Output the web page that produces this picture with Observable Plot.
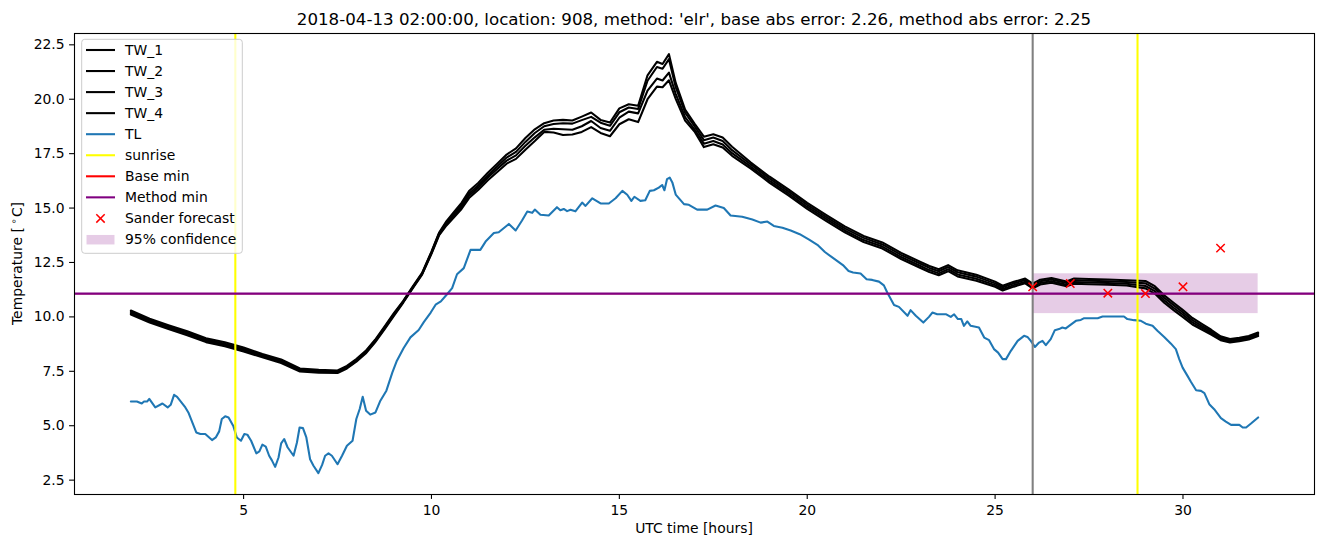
<!DOCTYPE html>
<html>
<head>
<meta charset="utf-8">
<script src="https://cdn.jsdelivr.net/npm/d3@7"></script>
<script src="https://cdn.jsdelivr.net/npm/@observablehq/plot@0.6"></script>
<style>
  html, body { margin: 0; padding: 0; background: #fff; }
  #wrap { position: relative; width: 1324px; height: 547px; font-family: "DejaVu Sans", sans-serif; }
  #chart svg { display: block; }
  #overlay { position: absolute; left: 0; top: 0; pointer-events: none; }
</style>
</head>
<body>
<div id="wrap">
  <div id="chart"></div>
  <svg id="overlay" width="1324" height="547"></svg>
</div>
<script>
// ---------------- data ----------------
const titleText = "2018-04-13 02:00:00, location: 908, method: 'elr', base abs error: 2.26, method abs error: 2.25";

const hoursTW = [2, 2.5, 3, 3.5, 4, 4.5, 5, 5.5, 6, 6.5, 7, 7.5, 7.75, 8, 8.25, 8.5, 8.75, 9, 9.25, 9.5,
  9.75, 10, 10.2, 10.4, 10.6, 10.8, 11, 11.25, 11.5, 11.75, 12, 12.25, 12.5, 12.75, 13, 13.25, 13.5, 13.75, 14, 14.25,
  14.5, 14.75, 15, 15.25, 15.5, 15.75, 16, 16.15, 16.32, 16.5, 16.75, 17, 17.25, 17.5, 17.75, 18, 18.5, 19, 19.5, 20,
  20.5, 21, 21.5, 22, 22.5, 23, 23.25, 23.5, 23.75, 24, 24.5, 25, 25.2, 25.5, 25.8, 26, 26.2, 26.5, 26.9, 27.1,
  27.5, 28, 28.5, 29, 29.25, 29.5, 29.75, 30, 30.25, 30.5, 30.75, 31, 31.25, 31.5, 31.75, 32];

const TW_1 = [10.29, 9.92, 9.62, 9.34, 9.02, 8.83, 8.59, 8.30, 8.04, 7.63, 7.57, 7.54, 7.75, 8.06, 8.44, 8.95, 9.55, 10.17,
  10.74, 11.39, 12.02, 13.00, 13.86, 14.40, 14.82, 15.24, 15.78, 16.16, 16.62, 17.04, 17.46, 17.74, 18.22, 18.62, 18.90, 19.02, 19.05, 19.02, 19.20, 19.39,
  19.05, 18.93, 19.58, 19.77, 19.70, 21.10, 21.72, 21.62, 22.07, 20.75, 19.52, 18.88, 18.28, 18.39, 18.24, 17.82,
  17.09, 16.44, 15.86, 15.24, 14.69, 14.16, 13.72, 13.42, 12.94, 12.54, 12.34, 12.19, 12.38, 12.14, 11.94, 11.62, 11.43, 11.61, 11.76, 11.53,
  11.71, 11.79, 11.63, 11.76, 11.74, 11.72, 11.68, 11.65, 11.41, 10.99, 10.65, 10.31, 9.95, 9.68, 9.41, 9.11, 8.98, 9.04, 9.12, 9.28];

const TW_2 = [10.23, 9.86, 9.56, 9.28, 8.96, 8.77, 8.53, 8.25, 7.99, 7.58, 7.52, 7.50, 7.71, 8.02, 8.40, 8.91, 9.51, 10.13,
  10.71, 11.36, 11.99, 12.97, 13.82, 14.33, 14.74, 15.14, 15.67, 16.05, 16.50, 16.91, 17.32, 17.58, 18.04, 18.45, 18.76, 18.86, 18.90, 18.88, 19.04, 19.19,
  18.92, 18.78, 19.40, 19.62, 19.55, 20.85, 21.48, 21.40, 21.84, 20.55, 19.38, 18.76, 18.12, 18.24, 18.08, 17.66,
  17.00, 16.35, 15.77, 15.15, 14.60, 14.07, 13.63, 13.33, 12.85, 12.45, 12.25, 12.10, 12.29, 12.05, 11.85, 11.54, 11.36, 11.54, 11.69, 11.46,
  11.64, 11.72, 11.56, 11.68, 11.66, 11.64, 11.60, 11.54, 11.30, 10.88, 10.54, 10.20, 9.85, 9.59, 9.34, 9.05, 8.93, 8.99, 9.07, 9.23];

const TW_3 = [10.17, 9.80, 9.50, 9.22, 8.90, 8.71, 8.47, 8.19, 7.93, 7.54, 7.48, 7.46, 7.67, 7.98, 8.36, 8.87, 9.47, 10.09,
  10.69, 11.34, 11.97, 12.93, 13.78, 14.27, 14.66, 15.06, 15.57, 15.95, 16.40, 16.79, 17.18, 17.42, 17.86, 18.25, 18.60, 18.64, 18.62, 18.60, 18.76, 19.00,
  18.68, 18.55, 19.15, 19.43, 19.35, 20.40, 20.95, 20.86, 21.22, 20.25, 19.18, 18.62, 17.96, 18.08, 17.92, 17.52,
  16.90, 16.25, 15.67, 15.05, 14.50, 13.97, 13.53, 13.23, 12.75, 12.35, 12.15, 12.00, 12.19, 11.95, 11.75, 11.46, 11.28, 11.46, 11.61, 11.38,
  11.56, 11.64, 11.48, 11.60, 11.58, 11.56, 11.52, 11.42, 11.18, 10.76, 10.42, 10.10, 9.75, 9.51, 9.26, 8.99, 8.87, 8.93, 9.01, 9.17];

const TW_4 = [10.11, 9.74, 9.44, 9.16, 8.84, 8.65, 8.41, 8.14, 7.88, 7.49, 7.43, 7.42, 7.63, 7.94, 8.32, 8.83, 9.43, 10.05,
  10.66, 11.31, 11.94, 12.90, 13.74, 14.20, 14.58, 14.96, 15.46, 15.84, 16.28, 16.66, 17.04, 17.26, 17.68, 18.08, 18.50, 18.47, 18.36, 18.38, 18.50, 18.72,
  18.45, 18.30, 18.85, 19.08, 18.95, 20.00, 20.58, 20.55, 20.87, 20.02, 19.02, 18.52, 17.80, 17.93, 17.78, 17.40,
  16.81, 16.16, 15.58, 14.96, 14.41, 13.88, 13.44, 13.14, 12.66, 12.26, 12.06, 11.91, 12.10, 11.86, 11.66, 11.38, 11.21, 11.39, 11.54, 11.31,
  11.49, 11.57, 11.41, 11.52, 11.50, 11.48, 11.44, 11.31, 11.07, 10.65, 10.31, 9.99, 9.65, 9.42, 9.19, 8.93, 8.82, 8.88, 8.96, 9.12];

const hoursTL = [2.00, 2.16, 2.29, 2.35, 2.43, 2.49, 2.65, 2.84, 2.98, 3.06, 3.15, 3.23, 3.45, 3.53, 3.74, 3.85, 3.98, 4.16, 4.26, 4.35,
  4.42, 4.51, 4.60, 4.73, 4.82, 4.93, 5.02, 5.10, 5.20, 5.34, 5.42, 5.50, 5.59, 5.68, 5.75, 5.84, 5.93, 6.00, 6.08, 6.17,
  6.33, 6.42, 6.49, 6.58, 6.67, 6.77, 6.86, 6.99, 7.09, 7.17, 7.26, 7.35, 7.50, 7.62, 7.75, 7.90, 8.00, 8.09, 8.17, 8.26,
  8.37, 8.51, 8.64, 8.80, 8.96, 9.08, 9.26, 9.44, 9.66, 9.80, 9.98, 10.11, 10.25, 10.42, 10.55, 10.68, 10.86, 11.04, 11.30, 11.44,
  11.66, 11.79, 12.06, 12.24, 12.41, 12.55, 12.68, 12.75, 12.90, 13.12, 13.34, 13.43, 13.52, 13.61, 13.70, 13.83, 14.01, 14.10, 14.28, 14.50,
  14.72, 14.90, 15.08, 15.21, 15.32, 15.40, 15.56, 15.69, 15.81, 15.92, 16.05, 16.14, 16.20, 16.27, 16.34, 16.41, 16.50, 16.72, 16.85, 17.07,
  17.34, 17.56, 17.78, 17.96, 18.27, 18.54, 18.76, 18.94, 19.11, 19.34, 19.56, 19.80, 20.05, 20.27, 20.47, 20.73, 20.95, 21.10, 21.22, 21.42,
  21.58, 21.73, 21.91, 22.04, 22.13, 22.31, 22.44, 22.67, 22.75, 22.89, 23.09, 23.24, 23.33, 23.46, 23.70, 23.82, 23.91, 24.01, 24.10, 24.17,
  24.26, 24.35, 24.57, 24.71, 24.84, 24.97, 25.08, 25.20, 25.29, 25.42, 25.60, 25.77, 25.86, 25.95, 26.06, 26.17, 26.26, 26.35, 26.48, 26.59,
  26.70, 26.79, 26.88, 27.15, 27.28, 27.37, 27.73, 27.86, 28.43, 28.52, 28.70, 28.88, 29.01, 29.19, 29.32, 29.50, 29.68, 29.81, 29.90, 29.99,
  30.12, 30.21, 30.35, 30.48, 30.57, 30.70, 30.83, 31.01, 31.14, 31.28, 31.50, 31.59, 31.68, 31.81, 32.00];

const TL = [6.11, 6.11, 6.02, 6.11, 6.11, 6.23, 5.84, 6.02, 5.84, 5.96, 6.42, 6.33, 5.84, 5.61, 4.69, 4.62, 4.62, 4.34, 4.46, 4.74,
  5.31, 5.43, 5.38, 4.97, 4.46, 4.31, 4.62, 4.59, 4.31, 3.73, 3.82, 4.13, 4.04, 3.62, 3.42, 3.11, 3.54, 4.19, 4.39, 4.01,
  3.62, 4.23, 4.92, 4.89, 4.46, 3.46, 3.16, 2.82, 3.20, 3.62, 3.73, 3.62, 3.23, 3.62, 4.08, 4.31, 5.31, 5.77, 6.33, 5.69,
  5.51, 5.61, 6.15, 6.61, 7.45, 7.99, 8.57, 9.06, 9.40, 9.77, 10.20, 10.56, 10.71, 11.05, 11.32, 11.96, 12.24, 13.08, 13.08, 13.46,
  13.85, 13.89, 14.27, 13.97, 14.43, 14.84, 14.78, 14.93, 14.69, 14.66, 15.04, 14.90, 14.96, 14.86, 14.92, 14.85, 15.25, 15.10, 15.45, 15.21,
  15.21, 15.45, 15.79, 15.61, 15.33, 15.52, 15.33, 15.36, 15.79, 15.82, 15.94, 16.06, 15.82, 16.33, 16.40, 16.18, 15.62, 15.18, 15.15, 14.93,
  14.93, 15.12, 15.00, 14.66, 14.60, 14.47, 14.33, 14.38, 14.18, 14.10, 13.97, 13.80, 13.55, 13.31, 12.98, 12.65, 12.38, 12.11, 12.04, 11.99,
  11.73, 11.70, 11.62, 11.45, 11.12, 10.55, 10.46, 10.05, 10.31, 10.05, 9.74, 10.00, 10.20, 10.12, 10.12, 10.00, 10.12, 9.90, 9.90, 9.59,
  9.79, 9.59, 9.51, 9.05, 8.93, 8.52, 8.36, 8.06, 8.06, 8.44, 8.90, 9.13, 9.08, 8.90, 8.62, 8.82, 8.90, 8.70, 8.98, 9.39,
  9.44, 9.51, 9.47, 9.82, 9.86, 9.94, 9.94, 10.02, 10.02, 9.90, 9.85, 9.82, 9.69, 9.59, 9.36, 9.08, 8.77, 8.52, 8.06, 7.67,
  7.29, 7.02, 6.63, 6.60, 6.50, 5.99, 5.76, 5.35, 5.19, 5.04, 5.04, 4.92, 4.92, 5.10, 5.38];

const sunriseHours = [4.78, 28.79];
const forecastStartHour = [26.0];
const baseMin = [11.07];
const methodMin = [11.07];
const sanderHours = [26, 27, 28, 29, 30, 31];
const sanderTemps = [11.38, 11.53, 11.09, 11.07, 11.38, 13.16];
const confStart = 26, confEnd = 32, confLow = 10.15, confHigh = 11.98;

const xTicks = [5, 10, 15, 20, 25, 30];
const yTicks = [2.5, 5.0, 7.5, 10.0, 12.5, 15.0, 17.5, 20.0, 22.5];

// ---------------- build ----------------
const twSeries = [TW_1, TW_2, TW_3, TW_4].map(vals => hoursTW.map((h, i) => ({h, t: vals[i]})));
const tlData = hoursTL.map((h, i) => ({h, t: TL[i]}));
const sander = sanderHours.map((h, i) => ({h, t: sanderTemps[i]}));
const conf = [{x1: confStart, x2: confEnd, y1: confLow, y2: confHigh}];

const LW = 2.08;
const chart = Plot.plot({
  width: 1324,
  height: 547,
  marginLeft: 74,
  marginRight: 10,
  marginTop: 33,
  marginBottom: 53,
  style: {fontFamily: "DejaVu Sans", fontSize: "13.9px", background: "white", color: "black"},
  x: {domain: [0.5, 33.5]},
  y: {domain: [1.84, 23.02]},
  marks: [
    Plot.rect(conf, {x1: "x1", x2: "x2", y1: "y1", y2: "y2", fill: "purple", fillOpacity: 0.2}),
    ...twSeries.map(d => Plot.line(d, {x: "h", y: "t", stroke: "black", strokeWidth: LW})),
    Plot.line(tlData, {x: "h", y: "t", stroke: "#1f77b4", strokeWidth: LW}),
    Plot.ruleX(sunriseHours, {stroke: "yellow", strokeWidth: LW}),
    Plot.ruleX(forecastStartHour, {stroke: "gray", strokeWidth: LW}),
    Plot.ruleY(baseMin, {stroke: "red", strokeWidth: 1.4}),
    Plot.ruleY(methodMin, {stroke: "purple", strokeWidth: 2.3}),
    Plot.dot(sander, {x: "h", y: "t", symbol: "times", r: 3.9, stroke: "red", strokeWidth: 1.5}),
    Plot.frame({stroke: "black", strokeWidth: 1.1}),
    Plot.axisX({ticks: xTicks, tickSize: 4.9, tickPadding: 5.5, tickFormat: d => String(d), label: null, strokeWidth: 1.1}),
    Plot.axisY({ticks: yTicks, tickSize: 4.9, tickPadding: 5, tickFormat: d3.format(".1f"), label: null, strokeWidth: 1.1})
  ]
});
document.getElementById("chart").appendChild(chart);

// ---------------- title, axis labels, legend ----------------
const ov = d3.select("#overlay");
const font = "DejaVu Sans";
ov.append("text").attr("x", 694).attr("y", 24.5).attr("text-anchor", "middle")
  .attr("font-family", font).attr("font-size", 16.67).text(titleText);
ov.append("text").attr("x", 694).attr("y", 533).attr("text-anchor", "middle")
  .attr("font-family", font).attr("font-size", 13.9).text("UTC time [hours]");
const yl = ov.append("text").attr("transform", "translate(22,263.5) rotate(-90)").attr("text-anchor", "middle")
  .attr("font-family", font).attr("font-size", 13.9);
yl.append("tspan").text("Temperature [");
yl.append("tspan").attr("dx", 3).attr("dy", -5).attr("font-size", 9.7).text("∘");
yl.append("tspan").attr("dx", 1).attr("dy", 5).text("C]");

const lg = ov.append("g");
lg.append("rect").attr("x", 81.7).attr("y", 39.3).attr("width", 160.6).attr("height", 214).attr("rx", 3)
  .attr("fill", "white").attr("fill-opacity", 0.8).attr("stroke", "#cccccc").attr("stroke-width", 1);
const entries = [
  {label: "TW_1", type: "line", color: "black"},
  {label: "TW_2", type: "line", color: "black"},
  {label: "TW_3", type: "line", color: "black"},
  {label: "TW_4", type: "line", color: "black"},
  {label: "TL", type: "line", color: "#1f77b4"},
  {label: "sunrise", type: "line", color: "yellow"},
  {label: "Base min", type: "line", color: "red"},
  {label: "Method min", type: "line", color: "purple"},
  {label: "Sander forecast", type: "x", color: "red"},
  {label: "95% confidence", type: "patch", color: "purple"}
];
entries.forEach((e, i) => {
  const y = 50 + 21.05 * i;
  if (e.type === "line") {
    lg.append("line").attr("x1", 86).attr("x2", 115).attr("y1", y).attr("y2", y)
      .attr("stroke", e.color).attr("stroke-width", LW);
  } else if (e.type === "x") {
    const s = 4.2;
    lg.append("path").attr("d", `M${100.5 - s},${y - s}L${100.5 + s},${y + s}M${100.5 - s},${y + s}L${100.5 + s},${y - s}`)
      .attr("stroke", e.color).attr("stroke-width", 1.5).attr("fill", "none");
  } else {
    lg.append("rect").attr("x", 86.5).attr("y", y - 4.5).attr("width", 28).attr("height", 9.5)
      .attr("fill", e.color).attr("fill-opacity", 0.2);
  }
  lg.append("text").attr("x", 125).attr("y", y + 5).attr("font-family", font).attr("font-size", 13.9).text(e.label);
});
</script>
</body>
</html>
